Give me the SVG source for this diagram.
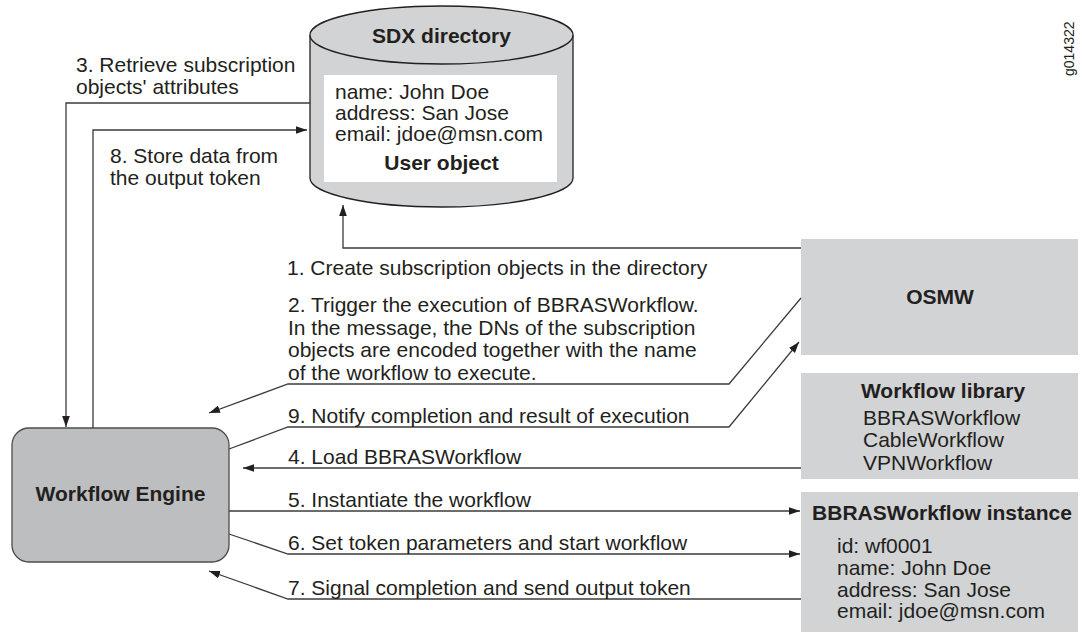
<svg xmlns="http://www.w3.org/2000/svg" width="1082" height="635" viewBox="0 0 1082 635">
<defs>
<marker id="arr" markerUnits="userSpaceOnUse" markerWidth="11" markerHeight="8" refX="10" refY="3.5" orient="auto" viewBox="0 0 10 7">
<path d="M0,0 L10,3.5 L0,7 z" fill="#231f20"/>
</marker>
<style>
text{font-family:"Liberation Sans",Arial,Helvetica,sans-serif;font-size:21px;fill:#231f20}
.b{font-weight:bold}
.c{text-anchor:middle}
.box{fill:#d1d3d4;stroke:none}
.eng{fill:#bcbec0;stroke:#4d4d4f;stroke-width:1.3}
.cyl{fill:#d1d3d4;stroke:#231f20;stroke-width:1.3}
.ln{fill:none;stroke:#3b3b3d;stroke-width:1.3}
.la{fill:none;stroke:#3b3b3d;stroke-width:1.3;marker-end:url(#arr)}
</style>
</defs>
<rect width="1082" height="635" fill="#ffffff"/>

<g id="sdx-directory">
<path class="cyl" d="M310,35 L310,178 A131.5,29 0 0 0 573,178 L573,35"/>
<ellipse class="cyl" cx="441.5" cy="35" rx="131.5" ry="29"/>
<text class="b c" x="441.5" y="43">SDX directory</text>
<rect x="324" y="75" width="233" height="107" fill="#ffffff"/>
<text x="335" y="99">name: John Doe</text>
<text x="335" y="120">address: San Jose</text>
<text x="335" y="141">email: jdoe@msn.com</text>
<text class="b c" x="441.5" y="170">User object</text>
</g>

<g id="workflow-engine">
<rect class="eng" x="12" y="428" width="217" height="134" rx="17" ry="17"/>
<text class="b c" x="120.5" y="501">Workflow Engine</text>
</g>

<g id="osmw">
<rect class="box" x="801" y="239" width="277" height="116"/>
<text class="b c" x="940" y="304">OSMW</text>
</g>

<g id="workflow-library">
<rect class="box" x="801" y="373" width="277" height="106"/>
<text class="b c" x="943" y="398">Workflow library</text>
<text x="863" y="425">BBRASWorkflow</text>
<text x="863" y="447">CableWorkflow</text>
<text x="863" y="470">VPNWorkflow</text>
</g>

<g id="bbras-instance">
<rect class="box" x="801" y="492" width="277" height="140"/>
<text class="b c" x="942" y="520">BBRASWorkflow instance</text>
<text x="837" y="553">id: wf0001</text>
<text x="837" y="575">name: John Doe</text>
<text x="837" y="597">address: San Jose</text>
<text x="837" y="618">email: jdoe@msn.com</text>
</g>

<g id="connectors">
<path class="la" d="M801,248 L343,248 L343,205"/>
<path class="la" d="M801,298 L729,384 L288,384 L209,413"/>
<path class="la" d="M310,103 L66,103 L66,427"/>
<path class="la" d="M801,468 L243,468"/>
<path class="la" d="M229,511 L800,511"/>
<path class="la" d="M229,534 L288,554 L800,554"/>
<path class="la" d="M801,599 L288,599 L209,571"/>
<path class="la" d="M93,428 L93,130 L307,130"/>
<path class="la" d="M229,449 L288,427 L729,427 L799,342"/>
</g>

<g id="labels">
<text x="76" y="72">3. Retrieve subscription</text>
<text x="76" y="94">objects' attributes</text>
<text x="110" y="163">8. Store data from</text>
<text x="110" y="185">the output token</text>
<text x="287" y="275">1. Create subscription objects in the directory</text>
<text x="288" y="312">2. Trigger the execution of BBRASWorkflow.</text>
<text x="288" y="335">In the message, the DNs of the subscription</text>
<text x="288" y="357">objects are encoded together with the name</text>
<text x="288" y="380">of the workflow to execute.</text>
<text x="288" y="423">9. Notify completion and result of execution</text>
<text x="288" y="464">4. Load BBRASWorkflow</text>
<text x="288" y="507">5. Instantiate the workflow</text>
<text x="288" y="550">6. Set token parameters and start workflow</text>
<text x="288" y="595">7. Signal completion and send output token</text>
<text x="1074" y="76" transform="rotate(-90 1074 76)" style="font-size:14px">g014322</text>
</g>
</svg>
